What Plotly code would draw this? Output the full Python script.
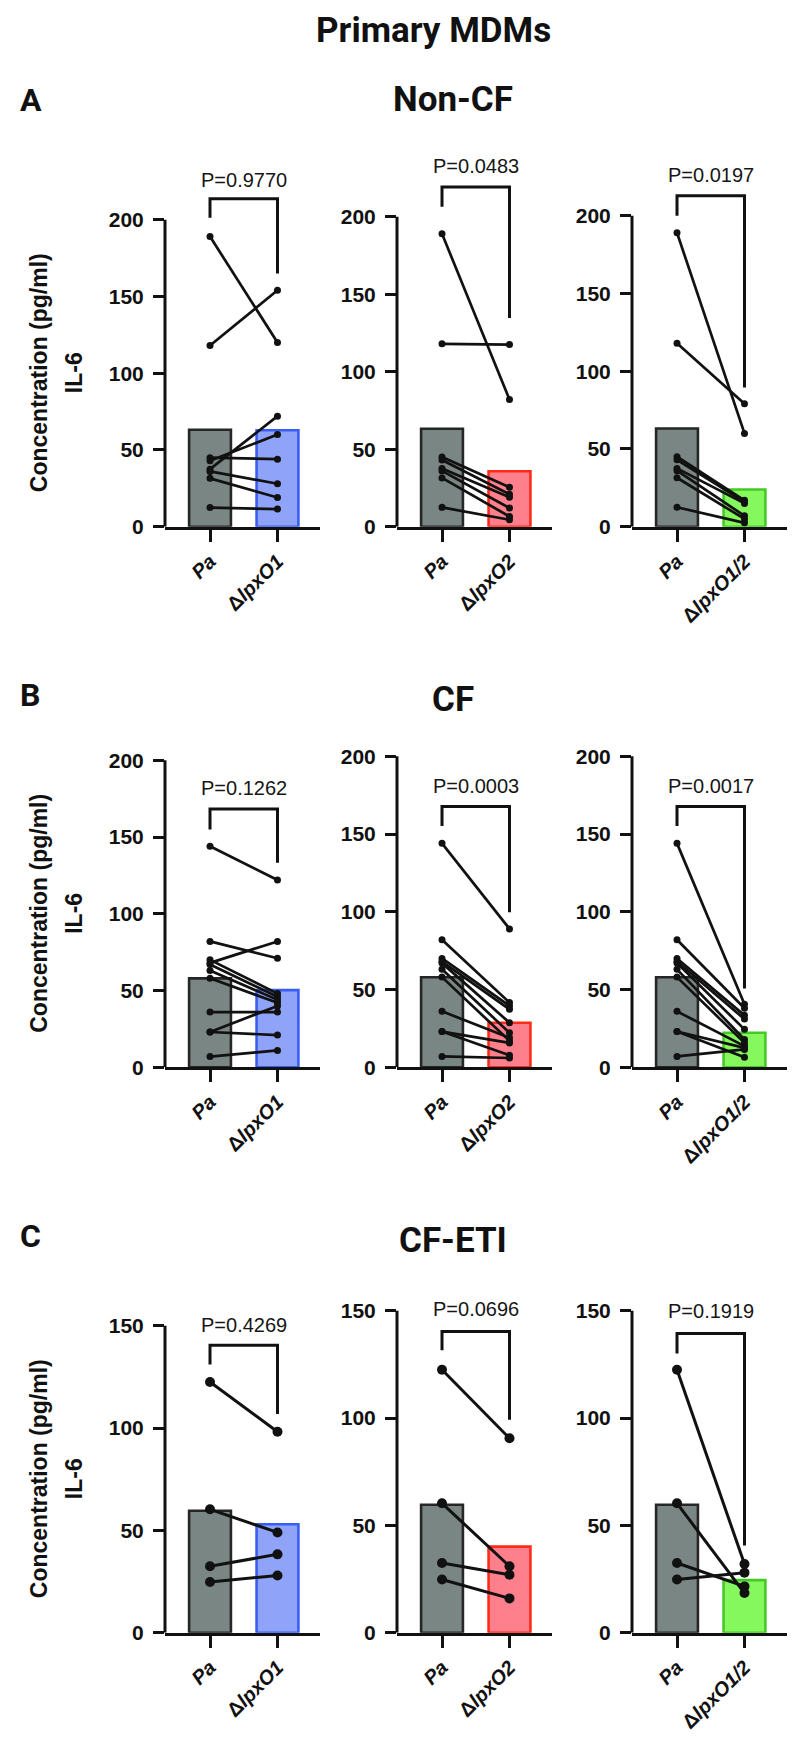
import plotly.graph_objects as go

W, H = 798, 1754

# ---------------- data ----------------
row_titles = ["Non-CF", "CF", "CF-ETI"]
row_letters = ["A", "B", "C"]
categories = ["Pa", "ΔlpxO1", "ΔlpxO2", "ΔlpxO1/2"]
p_values = [["P=0.9770", "P=0.0483", "P=0.0197"],
            ["P=0.1262", "P=0.0003", "P=0.0017"],
            ["P=0.4269", "P=0.0696", "P=0.1919"]]

# Non-CF donors (paired, same order)
nonCF_pa = [189, 118, 45, 43, 37.5, 36, 31.5, 12.5]
nonCF_lpxO1 = [120, 154, 44, 60, 72, 28, 19, 11.5]
nonCF_lpxO2 = [82, 117.5, 25.4, 21, 19, 12, 6.6, 4.5]
nonCF_lpxO12 = [60, 79, 17, 16, 15, 7, 5, 2.5]
nonCF_bar = [63.2, 62.8, 35.8, 23.9]   # Pa, lpxO1, lpxO2, lpxO1/2

# CF donors
cf_pa = [144, 82, 70, 68, 67, 63, 58, 36, 23, 23, 7]
cf_lpxO1 = [122, 71, 48, 82, 46, 44, 42, 36, 40, 21, 11]
cf_lpxO2 = [89, 41.6, 39.5, 37.3, 28.7, 22.2, 17, 19, 15.7, 7.8, 6]
cf_lpxO12 = [40.6, 38, 33.4, 31, 24.4, 17.9, 15.7, 13.6, 12.5, 6.5, 11.5]
cf_bar = [57.9, 50.3, 28.7, 22.2]

# CF-ETI donors
eti_pa = [122.5, 60.3, 32.5, 24.8]
eti_lpxO1 = [98.2, 49, 38.3, 28]
eti_lpxO2 = [90.6, 31, 27, 16]
eti_lpxO12 = [32, 18.5, 21.6, 28]
eti_bar = [59.6, 53, 40.1, 24.5]

y_tickvals = [[0, 50, 100, 150, 200], [0, 50, 100, 150, 200], [0, 50, 100, 150]]

# ---------------- styling / layout ----------------
mut_fill = ["#8fa4f8", "#fd808c", "#84f85c"]
mut_line = ["#3a5ef5", "#ff2a18", "#46c926"]
pa_fill = "#7a8683"
pa_line = "#262626"

col_x0 = [157, 389, 624]          # px, y-axis position of each column
col_w = 155
row_y0 = [522, 1066, 1635]        # px of value 0
row_ptop = [140, 740, 1290]       # px top of plotting area
axis_top_px = [[213, 210, 209], [757, 753, 753], [1326, 1311, 1311]]
# bracket: (left leg end, top, right leg end, label y) in axis units
brackets = [[(201.3, 213.6, 165, 225.9), (206.4, 219.2, 134.6, 232.7), (200, 212.8, 89.5, 226.2)],
            [(154.9, 168.3, 133.3, 181.9), (155.1, 167.7, 99.7, 180.6), (155.1, 167.7, 50.7, 181.0)],
            [(131, 140.4, 106.8, 150.5), (131.6, 140.4, 99.2, 150.9), (130.1, 139.4, 40.6, 149.7)]]

rows_data = [
    (nonCF_pa, [nonCF_lpxO1, nonCF_lpxO2, nonCF_lpxO12], nonCF_bar),
    (cf_pa, [cf_lpxO1, cf_lpxO2, cf_lpxO12], cf_bar),
    (eti_pa, [eti_lpxO1, eti_lpxO2, eti_lpxO12], eti_bar),
]

NUMFONT = "Liberation Sans, Arial, sans-serif"
HEADFONT = "Roboto, Liberation Sans, sans-serif"

fig = go.Figure()
layout = dict(width=W, height=H, margin=dict(l=0, r=0, t=0, b=0),
              plot_bgcolor="white", paper_bgcolor="white", showlegend=False)
shapes, annotations = [], []


def px_x(v):
    return v / W


def px_y(v):
    return 1 - v / H


n = 0
for r in range(3):
    pa_vals, muts, bars = rows_data[r]
    tmax = y_tickvals[r][-1]
    for c in range(3):
        n += 1
        xa = "x" if n == 1 else f"x{n}"
        ya = "y" if n == 1 else f"y{n}"
        xkey = "xaxis" if n == 1 else f"xaxis{n}"
        ykey = "yaxis" if n == 1 else f"yaxis{n}"
        y0 = row_y0[r]
        scale = (y0 - axis_top_px[r][c]) / tmax
        R = (y0 - row_ptop[r]) / scale
        mv = muts[c]
        msize = 10 if r == 2 else 7
        lw = 3 if r == 2 else 2.7

        fig.add_trace(go.Bar(
            x=[0, 1], y=[bars[0], bars[c + 1]], width=0.62,
            marker=dict(color=[pa_fill, mut_fill[c]],
                        line=dict(color=[pa_line, mut_line[c]], width=2.6)),
            xaxis=xa, yaxis=ya, hoverinfo="skip"))

        xs, ys = [], []
        for a, b in zip(pa_vals, mv):
            xs += [0, 1, None]
            ys += [a, b, None]
        fig.add_trace(go.Scatter(
            x=xs, y=ys, mode="lines+markers",
            line=dict(color="#111111", width=lw),
            marker=dict(color="#111111", size=msize),
            xaxis=xa, yaxis=ya, hoverinfo="skip", cliponaxis=False))

        bl, bt, br, ty = brackets[r][c]
        fig.add_trace(go.Scatter(
            x=[0, 0, 1, 1], y=[bl, bt, bt, br], mode="lines",
            line=dict(color="#111111", width=3),
            xaxis=xa, yaxis=ya, hoverinfo="skip"))
        annotations.append(dict(x=0.5, y=ty, xref=xa, yref=ya, text=p_values[r][c],
                                showarrow=False, font=dict(family=NUMFONT, size=20, color="#161616"),
                                xanchor="center", yanchor="middle"))

        shapes.append(dict(type="line", xref=f"{xa} domain", x0=0, x1=0, yref=ya,
                           y0=0, y1=tmax, line=dict(color="#111111", width=3)))

        layout[xkey] = dict(
            domain=[px_x(col_x0[c]), px_x(col_x0[c] + col_w)], anchor=ya,
            range=[-0.667, 1.63], showline=True, linewidth=3, linecolor="#111111",
            ticks="outside", ticklen=12, tickwidth=3, tickcolor="#111111",
            tickvals=[0, 1],
            ticktext=["<i>" + categories[0] + "</i>",
                      "Δ<i>" + categories[c + 1][1:] + "</i>"],
            tickangle=-45, tickfont=dict(family=NUMFONT, size=20, color="#111111", weight="bold"),
            showgrid=False, zeroline=False, fixedrange=True)
        layout[ykey] = dict(
            domain=[px_y(y0), px_y(row_ptop[r])], anchor=xa,
            range=[0, R], showline=False, ticks="outside", ticklen=11, tickwidth=3,
            tickcolor="#111111", tickvals=y_tickvals[r],
            tickfont=dict(family=NUMFONT, size=21, color="#111111", weight="bold"),
            ticklabelstandoff=5,
            showgrid=False, zeroline=False, fixedrange=True)

    # row labels
    ycen = (row_y0[r] + axis_top_px[r][0]) / 2
    annotations.append(dict(x=px_x(31), y=px_y(ycen), xref="paper", yref="paper",
                            text="Concentration (pg/ml)", textangle=-90, showarrow=False,
                            font=dict(family=NUMFONT, size=23, color="#111111", weight="bold"),
                            xanchor="center", yanchor="middle"))
    annotations.append(dict(x=px_x(66), y=px_y(ycen), xref="paper", yref="paper",
                            text="IL-6", textangle=-90, showarrow=False,
                            font=dict(family=NUMFONT, size=23, color="#111111", weight="bold"),
                            xanchor="center", yanchor="middle"))

letter_y = [93, 691, 1236]
head_y = [92.5, 695.5, 1240]
for r in range(3):
    annotations.append(dict(x=px_x(10), y=px_y(letter_y[r]), xref="paper", yref="paper",
                            text=row_letters[r], showarrow=False, xanchor="left", yanchor="middle",
                            font=dict(family=HEADFONT, size=32, color="#111111", weight="bold")))
    annotations.append(dict(x=px_x(445), y=px_y(head_y[r]), xref="paper", yref="paper",
                            text=row_titles[r], showarrow=False, xanchor="center", yanchor="middle",
                            font=dict(family=HEADFONT, size=35, color="#111111", weight="bold")))

annotations.append(dict(x=px_x(306), y=1, xref="paper", yref="paper",
                        text="Primary MDMs", showarrow=False, xanchor="left", yanchor="top",
                        font=dict(family=HEADFONT, size=35, color="#111111", weight="bold")))

layout["shapes"] = shapes
layout["annotations"] = annotations
layout["barmode"] = "overlay"
fig.update_layout(**layout)
fig.write_html("out.html")
